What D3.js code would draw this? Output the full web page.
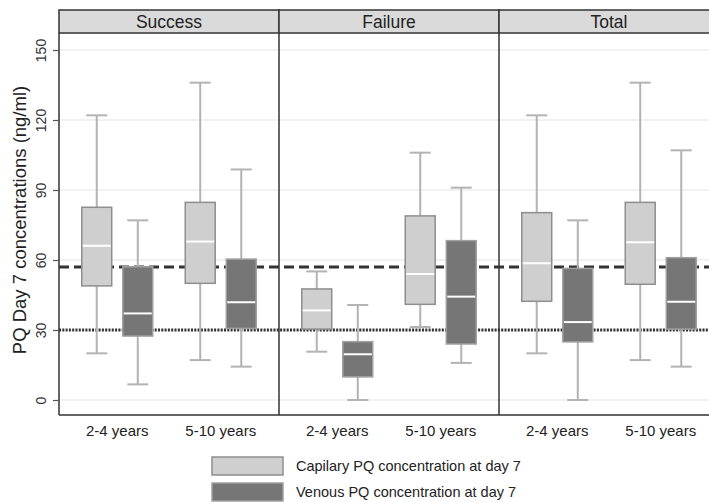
<!DOCTYPE html>
<html>
<head>
<meta charset="utf-8">
<script src="https://cdn.jsdelivr.net/npm/d3@7"></script>
<style>
  body { margin: 0; background: #fff; }
  svg { display: block; font-family: "Liberation Sans", Arial, sans-serif; }
</style>
</head>
<body>
<div id="chart"></div>
<script>
// panels, groups and box statistics
var panels = ["Success", "Failure", "Total"];
var ageGroups = ["2-4 years", "5-10 years"];
var sampleTypes = ["Capilary PQ concentration at day 7", "Venous PQ concentration at day 7"];
var yTicks = [0, 30, 60, 90, 120, 150];

// [lower whisker, q1, median, q3, upper whisker], panel by panel, 2-4 then 5-10
var capillaryStats = [
  [20, 48.9, 66.1, 82.6, 122], [17.1, 50, 67.9, 84.7, 136],
  [20.7, 30.4, 38.4, 47.6, 55.1], [31.3, 41, 54, 78.9, 106],
  [20, 42.3, 58.6, 80.3, 122], [17.1, 49.6, 67.6, 84.7, 136]
];
var venousStats = [
  [6.7, 27.4, 37.1, 57.1, 77], [14.3, 30.7, 41.9, 60.4, 98.8],
  [0, 9.9, 19.6, 25, 40.7], [15.9, 24, 44.3, 68.3, 91],
  [0, 24.9, 33.4, 56.4, 77], [14.3, 30.4, 42.1, 61, 107]
];
var refLines = [57, 30];

var W = 709, H = 502;
var plotLeft = 59, plotRight = 719, plotTop = 33, plotBottom = 415, stripTop = 10;

var svg = d3.select("#chart").append("svg")
    .attr("width", W)
    .attr("height", H);

var y = d3.scaleLinear().domain([0, 150]).range([400, 50]);

var xPanel = d3.scaleBand().domain(panels).range([plotLeft, plotRight]);
var xAge = d3.scaleBand().domain(ageGroups).range([0, xPanel.bandwidth()])
    .paddingInner(0.314).paddingOuter(0.22);
var xType = d3.scaleBand().domain(d3.range(sampleTypes.length)).range([0, xAge.bandwidth()])
    .paddingInner(0.27);

var fills = ["#cfcfcf", "#767676"];
var strokes = ["#8e8e8e", "#a0a0a0"];

// build box records from the arrays
var boxes = [];
panels.forEach(function(p, pi) {
  ageGroups.forEach(function(a, ai) {
    [capillaryStats, venousStats].forEach(function(arr, ti) {
      var s = arr[pi * ageGroups.length + ai];
      boxes.push({panel: p, age: a, type: ti, lo: s[0], q1: s[1], med: s[2], q3: s[3], hi: s[4]});
    });
  });
});

// gridlines
svg.append("g").selectAll("line")
  .data(yTicks)
  .enter().append("line")
    .attr("x1", plotLeft).attr("x2", plotRight)
    .attr("y1", function(d) { return y(d); })
    .attr("y2", function(d) { return y(d); })
    .attr("stroke", "#ececec")
    .attr("stroke-width", 1.5);

// reference lines (under the boxes)
svg.append("g").selectAll("line")
  .data(refLines)
  .enter().append("line")
    .attr("x1", plotLeft).attr("x2", plotRight)
    .attr("y1", function(d) { return y(d); })
    .attr("y2", function(d) { return y(d); })
    .attr("stroke", "#333")
    .attr("stroke-width", 3)
    .attr("stroke-dasharray", function(d, i) { return i == 0 ? "10,5" : "2,1.3"; });

// boxes
var bw = xType.bandwidth(), capW = 21;
var g = svg.append("g").selectAll("g.box")
  .data(boxes)
  .enter().append("g")
    .attr("class", "box")
    .attr("transform", function(d) {
      return "translate(" + (xPanel(d.panel) + xAge(d.age) + xType(d.type)) + ",0)";
    });

g.append("line")
    .attr("x1", bw / 2).attr("x2", bw / 2)
    .attr("y1", function(d) { return y(d.hi); })
    .attr("y2", function(d) { return y(d.lo); })
    .attr("stroke", "#b3b3b3").attr("stroke-width", 2);

g.selectAll("line.cap")
  .data(function(d) { return [d.lo, d.hi]; })
  .enter().append("line")
    .attr("class", "cap")
    .attr("x1", bw / 2 - capW / 2).attr("x2", bw / 2 + capW / 2)
    .attr("y1", function(v) { return y(v); })
    .attr("y2", function(v) { return y(v); })
    .attr("stroke", "#b3b3b3").attr("stroke-width", 2);

g.append("rect")
    .attr("x", 0)
    .attr("width", bw)
    .attr("y", function(d) { return y(d.q3); })
    .attr("height", function(d) { return y(d.q1) - y(d.q3); })
    .attr("fill", function(d) { return fills[d.type]; })
    .attr("stroke", function(d) { return strokes[d.type]; })
    .attr("stroke-width", 1.5);

g.append("line")
    .attr("x1", 1).attr("x2", bw - 1)
    .attr("y1", function(d) { return y(d.med); })
    .attr("y2", function(d) { return y(d.med); })
    .attr("stroke", "#fff").attr("stroke-width", 2);

// strip headers
var strip = svg.append("g").selectAll("g")
  .data(panels)
  .enter().append("g");
strip.append("rect")
    .attr("x", function(d) { return xPanel(d); })
    .attr("y", stripTop)
    .attr("width", xPanel.bandwidth())
    .attr("height", plotTop - stripTop)
    .attr("fill", "#dadada")
    .attr("stroke", "#333")
    .attr("stroke-width", 1.5);
strip.append("text")
    .attr("x", function(d) { return xPanel(d) + xPanel.bandwidth() / 2; })
    .attr("y", 28)
    .attr("text-anchor", "middle")
    .attr("font-size", 17.5)
    .attr("fill", "#222")
    .text(function(d) { return d; });

// panel frames
svg.append("g").selectAll("line")
  .data(panels)
  .enter().append("line")
    .attr("x1", function(d) { return xPanel(d); })
    .attr("x2", function(d) { return xPanel(d); })
    .attr("y1", plotTop).attr("y2", plotBottom)
    .attr("stroke", "#333").attr("stroke-width", 1.5);
svg.append("line")
    .attr("x1", plotLeft).attr("x2", plotRight)
    .attr("y1", plotBottom).attr("y2", plotBottom)
    .attr("stroke", "#333").attr("stroke-width", 1.5);

// y axis, labels rotated like stata
var yAxis = svg.append("g")
    .attr("transform", "translate(" + plotLeft + ",0)")
    .call(d3.axisLeft(y).tickValues(yTicks).tickSize(6));
yAxis.select(".domain").remove();
yAxis.selectAll(".tick line").attr("stroke", "#555").attr("stroke-width", 1.2);
yAxis.selectAll(".tick text")
    .attr("font-size", 14)
    .attr("fill", "#333")
    .attr("font-family", "Liberation Sans, Arial, sans-serif")
    .attr("x", null).attr("dy", null)
    .attr("transform", "translate(-13,0) rotate(-90)")
    .attr("text-anchor", "middle");

svg.append("text")
    .attr("transform", "translate(26," + ((plotTop + plotBottom) / 2 - 4) + ") rotate(-90)")
    .attr("text-anchor", "middle")
    .attr("font-size", 18.5)
    .attr("fill", "#222")
    .text("PQ Day 7 concentrations (ng/ml)");

// x labels per panel
panels.forEach(function(p) {
  var ax = svg.append("g")
      .attr("transform", "translate(" + xPanel(p) + "," + plotBottom + ")")
      .call(d3.axisBottom(xAge).tickSize(0).tickPadding(10));
  ax.select(".domain").remove();
  ax.selectAll("text")
      .attr("font-size", 15)
      .attr("fill", "#222")
      .attr("font-family", "Liberation Sans, Arial, sans-serif");
});

// legend
var leg = svg.append("g").selectAll("g")
  .data(sampleTypes)
  .enter().append("g")
    .attr("transform", function(d, i) { return "translate(212," + (457 + i * 26) + ")"; });
leg.append("rect")
    .attr("width", 71).attr("height", 18)
    .attr("fill", function(d, i) { return fills[i]; })
    .attr("stroke", function(d, i) { return strokes[i]; })
    .attr("stroke-width", 1.5);
leg.append("text")
    .attr("x", 84).attr("y", 9)
    .attr("dy", "0.35em")
    .attr("font-size", 14.5)
    .attr("fill", "#222")
    .text(function(d) { return d; });
</script>
</body>
</html>
